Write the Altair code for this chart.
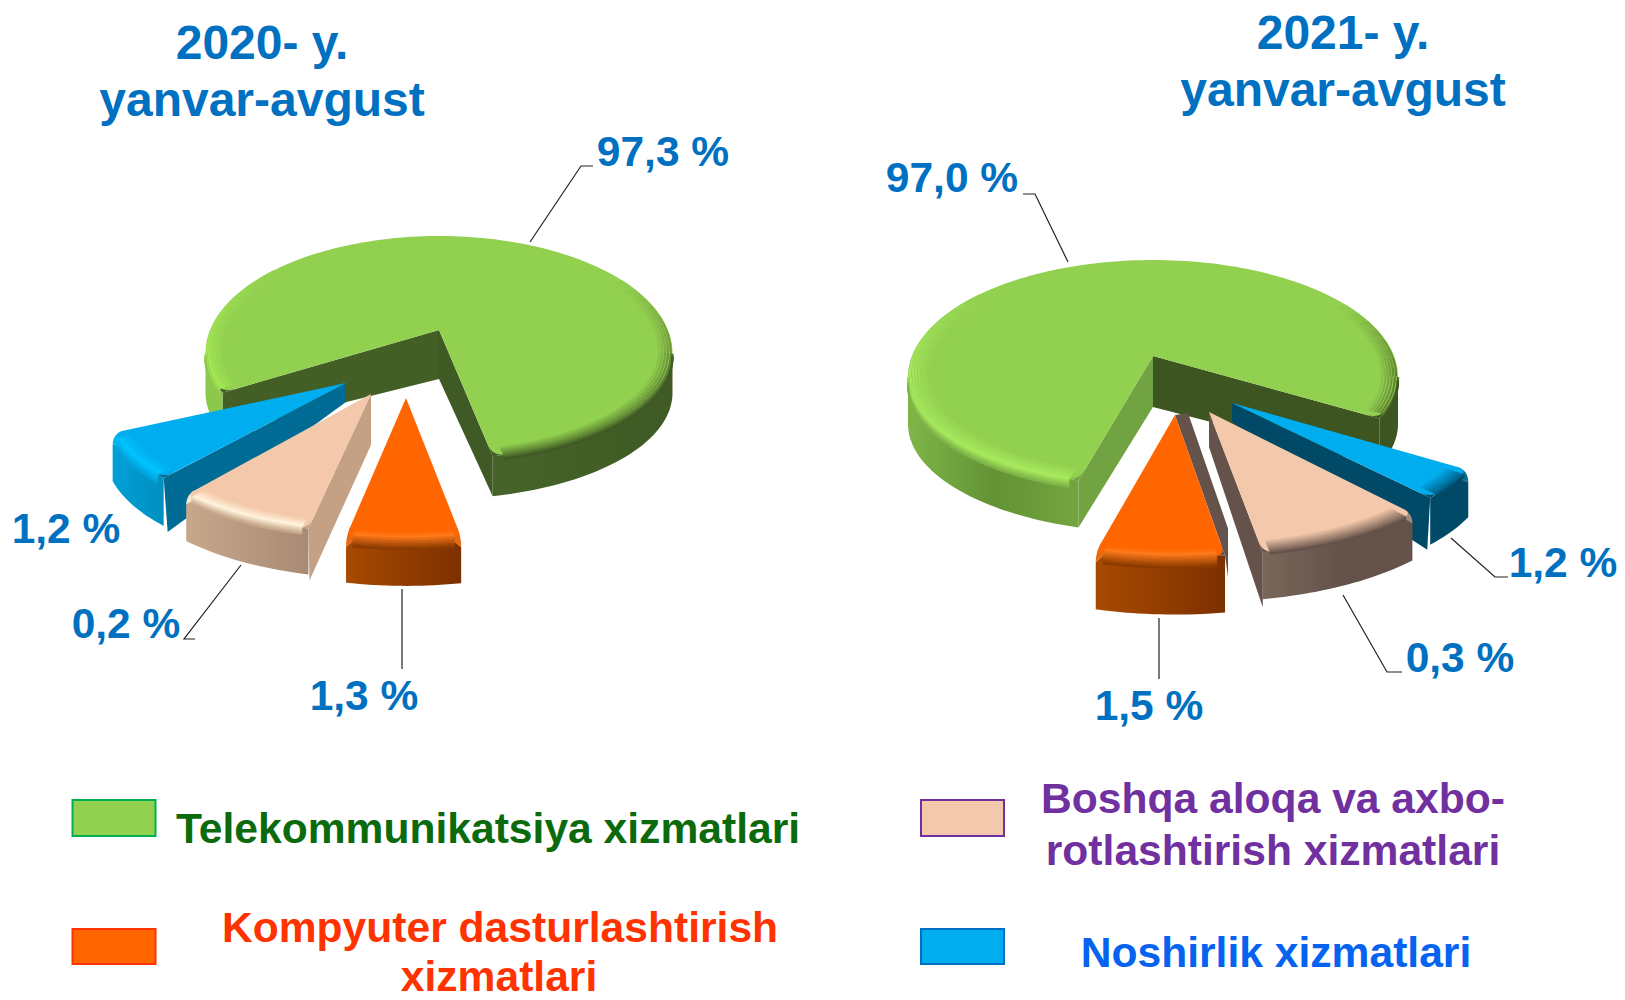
import math
import altair as alt
import pandas as pd

# ---- chart values ----
CATEGORIES = ["Telekommunikatsiya xizmatlari", "Boshqa aloqa va axbo-rotlashtirish xizmatlari",
              "Kompyuter dasturlashtirish xizmatlari", "Noshirlik xizmatlari"]
SHARE_2020 = [97.3, 0.2, 1.3, 1.2]
SHARE_2021 = [97.0, 0.3, 1.5, 1.2]
TITLE_2020 = ["2020- y.", "yanvar-avgust"]
TITLE_2021 = ["2021- y.", "yanvar-avgust"]
LEGEND_LINES = [["Telekommunikatsiya xizmatlari"], ["Boshqa aloqa va axbo-", "rotlashtirish xizmatlari"],
                ["Kompyuter dasturlashtirish", "xizmatlari"], ["Noshirlik xizmatlari"]]

# sweep (in degrees, on the tilted ellipse) each sector is drawn with in the source picture
SWEEP_2020 = [(158, 436.7), (104.5, 137.7), (77.6, 103.5), (139.3, 166)]
SWEEP_2021 = [(107.7, 382.4), (41, 78.5), (79.3, 107.1), (23.3, 39.6)]

# ---- style ----
TITLE_BLUE = "#0070C0"
TOPS = ["#92D050", "#F4C8AA", "#FF6600", "#00AEEF"]
LEG_STROKE = ["#00B050", "#7030A0", "#FF3300", "#0070C0"]
LEG_TEXT = ["#0B6A0B", "#7030A0", "#FF3300", "#0563F0"]


def grad(*cols):
    n = len(cols) - 1
    return {"gradient": "linear", "x1": 0, "x2": 1, "y1": 0, "y2": 0,
            "stops": [{"offset": i / n, "color": c} for i, c in enumerate(cols)]}


def mix(c0, c1, f):
    a = [int(c0[i:i + 2], 16) for i in (1, 3, 5)]
    b = [int(c1[i:i + 2], 16) for i in (1, 3, 5)]
    return "#" + "".join(f"{round(x + (y - x) * f):02x}" for x, y in zip(a, b))


layers = []
sx = alt.X("x:Q", scale=alt.Scale(domain=[8, 1617], nice=False, zero=False), axis=None)
sy = alt.Y("y:Q", scale=alt.Scale(domain=[992, 8], nice=False, zero=False), axis=None)


def frame(points):
    return pd.DataFrame({"x": [p[0] for p in points], "y": [p[1] for p in points], "i": range(len(points))})


def poly(points, fill):
    layers.append(alt.Chart(frame(points)).mark_line(fill=fill, stroke="transparent", strokeWidth=0,
                                                     interpolate="linear").encode(x=sx, y=sy, order="i:Q"))


def stroke(points, color, width=1.0, cap="butt"):
    layers.append(alt.Chart(frame(points)).mark_line(color=color, strokeWidth=width, strokeCap=cap).encode(
        x=sx, y=sy, order="i:Q"))


def text(s, x, y, size, color):
    df = pd.DataFrame({"x": [x], "y": [y], "t": [s]})
    layers.append(alt.Chart(df).mark_text(font="Liberation Sans", fontWeight="bold", fontSize=size, color=color,
                                          align="center", baseline="alphabetic").encode(x=sx, y=sy, text="t:N"))


def qcurve(a, c, b, n=8):
    return [((1 - k / n) ** 2 * a[0] + 2 * (k / n) * (1 - k / n) * c[0] + (k / n) ** 2 * b[0],
             (1 - k / n) ** 2 * a[1] + 2 * (k / n) * (1 - k / n) * c[1] + (k / n) ** 2 * b[1]) for k in range(n + 1)]


def sector(apex, s, sweep, base, top, depth, walls, outer, bevels, r=10, edge=None, fades=()):
    ax, ay = apex
    off, rx, ryb, ryf = base
    cx, cy = ax, ay + off * s
    span = (off + ryf) * s

    def pt(t):
        a = math.radians(t)
        sn = math.sin(a)
        return (cx + rx * s * math.cos(a), cy + (ryf if sn > 0 else ryb) * s * sn)

    def arc(t0, t1):
        n = max(2, int(abs(t1 - t0) / 1.5))
        return [pt(t0 + (t1 - t0) * k / n) for k in range(n + 1)]

    def corner(t, sign):
        c = pt(t)
        d = math.hypot(ax - c[0], ay - c[1])
        e = (c[0] + (ax - c[0]) * r / d, c[1] + (ay - c[1]) * r / d)
        delta = 0.0
        while math.dist(pt(t + sign * delta), c) < r:
            delta += 0.2
        return e, c, pt(t + sign * delta), delta

    e0, c0, a0, d0 = corner(sweep[0], 1)
    e1, c1, a1, d1 = corner(sweep[1], -1)
    walled0 = any(abs(w[0] - sweep[0]) % 360 < 1 for w in walls)
    walled1 = any(abs(w[0] - sweep[1]) % 360 < 1 for w in walls)
    w0 = (c0[0], c0[1] + r)
    w1 = (c1[0], c1[1] + r)

    for w in walls:
        t, ao, ro, col = w[:4]
        p = pt(t)
        mid = [(p[0] + w[4][0], p[1] + w[4][1])] if len(w) > 4 else []
        poly([apex, (ax + ao[0], ay + ao[1])] + mid + [(p[0] + ro[0], p[1] + ro[1]), p], col)

    for t0, t1, col in outer:
        a = arc(t0, t1)
        upper = a
        if t0 == sweep[0] and not walled0:
            upper = [w0] + arc(t0 + d0, t1)
        if t1 == sweep[1] and not walled1:
            upper = upper[:-1] if upper is not a else list(a)
            upper = [p for p in upper if math.dist(p, c1) > 1e-6]
            upper = [p for p in upper]
            upper += [a1, w1]
        poly(upper + [(x, y + depth) for x, y in reversed(a)], col)

    # rounded shoulders where the top meets the side
    for walled, e, c, a_, w_, t in ((walled0, e0, c0, a0, w0, sweep[0]), (walled1, e1, c1, a1, w1, sweep[1])):
        if walled:
            col = [x[3] for x in walls if abs(x[0] - t) % 360 < 1][0]
            poly([e, c, a_], col)
        elif edge:
            poly(qcurve(e, c, w_) + [a_], edge)

    poly([apex] + qcurve(e0, c0, a0) + arc(sweep[0] + d0, sweep[1] - d1)[1:-1] + qcurve(a1, c1, e1), top)

    for t0, t1, b0, col0, b1, col1 in bevels:
        n = max(2, int(abs(b1 - b0) / 1.5))
        for k in range(n + 1):
            b = b0 + (b1 - b0) * k / n
            pts = arc(t0, t1)
            if b < 0:
                f = 1 + b / span
                pts = [(ax + (x - ax) * f, ay + (y - ay) * f) for x, y in pts]
            else:
                pts = [(x, y + b) for x, y in pts]
            stroke(pts, mix(col0, col1, k / n), 2.2)

    # back-of-rim shading that dies away along the rim
    for t_strong, t_weak, b0, b1, col in fades:
        chunks = 8
        for j in range(chunks):
            ta = t_strong + (t_weak - t_strong) * j / chunks
            tb = t_strong + (t_weak - t_strong) * (j + 1) / chunks
            weight = 1 - (j + 0.5) / chunks
            n = max(2, int(abs(b1 - b0) / 1.5))
            for k in range(n + 1):
                b = b0 + (b1 - b0) * k / n
                f = 1 + b / span
                pts = [(ax + (x - ax) * f, ay + (y - ay) * f) for x, y in arc(ta, tb)]
                stroke(pts, mix(top, col, weight * k / n), 2.2)


BASE_L = (23, 233.5, 117, 106)
BASE_R = (21, 245, 117, 108.6)

# ---- 2020 pie ----
sector((439, 330), 1, SWEEP_2020[0], BASE_L, TOPS[0], 40,
       [(76.7, (0, 49), (0, 40), "#3F5A24"), (158, (0, 49), (0, 40), "#445F26")],
       [(0, 76.7, grad("#46642A", "#3F5A24")), (158, 180, "#8CC84B")],
       [(0, 74, -9, "#92D050", 4, "#3F5A24"),
        (160, 180, -10, "#92D050", -2, "#A5E855"), (160, 180, -2, "#A5E855", 6, "#8CC84B")], r=12,
       fades=[(360, 322, -9, -1, "#6E8F3A"), (180, 225, -10, -1, "#A5E855")])
sector((346, 383), 1.03, SWEEP_2020[3], BASE_L, TOPS[3], 48,
       [(139.3, (0, 19), (4, 54), "#006C96")],
       [(139.3, 166, grad("#00A0D8", "#0090C0"))],
       [(141.5, 163, -10, "#00AEEF", -2, "#00C4FF"), (141.5, 163, -2, "#00C4FF", 8, "#00A4DC")], r=12,
       edge="#00B8F4")
sector((371, 394), 1.07, SWEEP_2020[1], BASE_L, TOPS[1], 46,
       [(104.5, (0, 51), (1, 52), "#C4A084")],
       [(104.5, 137.7, grad("#C8A88C", "#A88A74"))],
       [(106, 136, -10, "#F4C8AA", -2, "#FFF3DC"), (106, 136, -2, "#FFF3DC", 6, "#C8A88C")], r=10,
       edge="#FBE4C8")
sector((406, 398), 1.1, SWEEP_2020[2], BASE_L, TOPS[2], 46,
       [],
       [(77.6, 103.5, grad("#A84A00", "#7D3000"))],
       [(79, 102, -8, "#FF6600", -3, "#FF7A1A"), (79, 102, -3, "#FF7A1A", 9, "#8A3A00")], r=10,
       edge="#E86A10")

# ---- 2021 pie ----
sector((1153, 356), 1, SWEEP_2021[0], BASE_R, TOPS[0], 47,
       [(22.4, (0, 51), (0, 47), "#3D5520"), (107.7, (0, 51), (0, 47), "#72A342")],
       [(107.7, 180, grad("#7FB548", "#639335", "#73A53F")), (0, 22.4, "#3D5520")],
       [(110, 180, -12, "#92D050", 0, "#A8EA5E"), (110, 180, 0, "#A8EA5E", 8, "#7FB548"),
        (0, 20, -10, "#92D050", 0, "#5A7A2E"), (0, 20, 0, "#5A7A2E", 4, "#3D5520")], r=12,
       fades=[(360, 322, -10, -1, "#5A7A2E"), (180, 225, -12, -1, "#A8EA5E")])
sector((1232, 403), 1.05, SWEEP_2021[3], BASE_R, TOPS[3], 47,
       [(39.6, (0, 19), (-3, 52), "#004A68")],
       [(23.3, 39.6, "#004A68")],
       [(25.5, 37.5, -12, "#00AEEF", 2, "#004A68")], r=12, edge="#0A6E92")
sector((1209, 412), 1.1, SWEEP_2021[1], BASE_R, TOPS[1], 47,
       [(78.5, (0, 35), (0, 55), "#65524A")],
       [(41, 78.5, grad("#7A675A", "#65524A", "#65524A"))],
       [(43, 77, -12, "#F4C8AA", 2, "#65524A")], r=10, edge="#A08A78")
sector((1175, 415), 1.1, SWEEP_2021[2], BASE_R, TOPS[2], 57,
       [(79.3, (13, -2), (3, 22), "#65524A", (3, -27))],
       [(79.3, 107.1, grad("#A84A00", "#7D3000"))],
       [(81, 105.5, -8, "#FF6600", -3, "#FF7A1A"), (81, 105.5, -3, "#FF7A1A", 10, "#8A3A00")], r=10,
       edge="#E86A10")

# ---- leader lines ----
LEADERS = [[(593, 166), (581, 166), (530, 242)], [(195, 639), (184, 639), (241, 565)], [(402, 589), (402, 669)],
           [(1023, 194), (1035, 194), (1068, 262)], [(1508, 577), (1495, 577), (1451, 538)],
           [(1402, 672), (1387, 672), (1343, 595)], [(1159, 618), (1159, 679)]]
for l in LEADERS:
    stroke(l, "#222222", 1.2)


# ---- texts ----
def pct(v):
    return f"{v:.1f}".replace(".", ",") + " %"


text(TITLE_2020[0], 262, 59, 48, TITLE_BLUE)
text(TITLE_2020[1], 262, 116, 48, TITLE_BLUE)
text(TITLE_2021[0], 1343, 49, 48, TITLE_BLUE)
text(TITLE_2021[1], 1343, 106, 48, TITLE_BLUE)

for v, (x, y) in zip(SHARE_2020, [(663, 166), (126, 638), (364, 710), (66, 543)]):
    text(pct(v), x, y, 42.5, TITLE_BLUE)
for v, (x, y) in zip(SHARE_2021, [(952, 192), (1460, 672), (1149, 720), (1563, 577)]):
    text(pct(v), x, y, 42.5, TITLE_BLUE)

SWATCHES = [(72.5, 800, 155.5, 836), (921, 800, 1004, 836), (72.5, 929, 155.5, 964), (921, 929, 1004, 964)]
for (x0, y0, x1, y1), f, st in zip(SWATCHES, TOPS, LEG_STROKE):
    df = pd.DataFrame({"x": [x0], "x2": [x1], "y": [y0], "y2": [y1]})
    layers.append(alt.Chart(df).mark_rect(fill=f, stroke=st, strokeWidth=2).encode(x=sx, x2="x2:Q", y=sy, y2="y2:Q"))

LEG_POS = [[(488, 843)], [(1273, 813), (1273, 865)], [(500, 942), (499, 991)], [(1276, 967)]]
for lines, pos, c in zip(LEGEND_LINES, LEG_POS, LEG_TEXT):
    for s, (x, y) in zip(lines, pos):
        text(s, x, y, 42.6, c)

chart = alt.layer(*layers).properties(width=1609, height=984, padding=0, background="white",
                                      autosize=alt.AutoSizeParams(type="none")).configure_view(stroke=None)
chart.save("out.html", embed_options={"renderer": "svg", "actions": False})
